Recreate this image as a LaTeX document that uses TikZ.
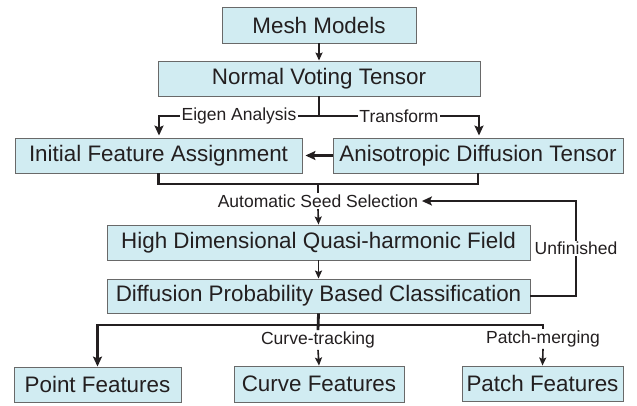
\documentclass[tikz,border=0pt]{standalone}
\usepackage{fontspec}
\setmainfont{Liberation Sans}
\usetikzlibrary{arrows.meta}
\definecolor{boxblue}{RGB}{209,236,242}
\definecolor{linecol}{RGB}{35,31,32}
\definecolor{boxline}{RGB}{105,105,105}
\begin{document}
\begin{tikzpicture}[x=1pt,y=-1pt,
  box/.style={draw=boxline, fill=boxblue, line width=0.9pt, inner sep=0pt, text=linecol, font=\fontsize{22.4}{26}\selectfont},
  lbl/.style={fill=white, inner sep=1.5pt, text=linecol, font=\fontsize{17.5}{20}\selectfont},
  thickline/.style={draw=linecol, line width=2.8pt, line join=miter},
  thickarrow/.style={thickline, -{Stealth[length=10pt,width=9pt,inset=2pt]}},
  thinarrow/.style={draw=linecol, line width=1.6pt, -{Stealth[length=8pt,width=7pt,inset=1.5pt]}}]
\useasboundingbox (0,0) rectangle (637,405);

\node[box, minimum width=194pt, minimum height=36pt] (mesh) at (319,25) {Mesh Models};
\node[box, minimum width=322pt, minimum height=35pt] (nvt) at (319,78.5) {Normal Voting Tensor};
\node[box, minimum width=287pt, minimum height=35pt] (ifa) at (158.5,155.5) {Initial Feature Assignment};
\node[box, minimum width=290pt, minimum height=35pt] (adt) at (478,155.5) {Anisotropic Diffusion Tensor};
\node[lbl] (ass) at (318,201) {Automatic Seed Selection};
\node[box, minimum width=423pt, minimum height=35pt] (hdq) at (318.5,242.5) {High Dimensional Quasi-harmonic Field};
\node[box, minimum width=423pt, minimum height=34pt] (dpb) at (318.5,296) {Diffusion Probability Based Classification};
\node[lbl] (ct) at (318,340) {Curve-tracking};
\node[lbl] (pm) at (543,339) {Patch-merging};
\node[box, minimum width=167pt, minimum height=35pt] (pf) at (97.5,384.5) {Point Features};
\node[box, minimum width=170pt, minimum height=36pt] (cf) at (319,384) {Curve Features};
\node[box, minimum width=161pt, minimum height=35pt] (paf) at (542.5,383.5) {Patch Features};

\coordinate (t1) at (319,116);
\coordinate (tl) at (159,116);
\coordinate (tr) at (479,116);
\coordinate (j) at (318,184);
\coordinate (fb) at (576,0);
\coordinate (b) at (318,325);

\draw[thinarrow] (mesh) -- (nvt);
\draw[thickline] (nvt.south) -- (t1);
\draw[thickarrow, shorten >=2pt] (t1) -- node[lbl, midway] (ea) {Eigen Analysis} (tl) -- (tl |- ifa.north);
\draw[thickarrow, shorten >=2pt] (t1) -- node[lbl, midway] (tf) {Transform} (tr) -- (tr |- adt.north);
\draw[thickarrow, shorten >=3pt] (adt.west) -- (ifa.east);
\draw[thickline] (ifa.south) -- (ifa.south |- j) -- (adt.south |- j) -- (adt.south);
\draw[thickline] (j) -- (ass.north);
\draw[thinarrow] (ass.south) -- (hdq.north);
\draw[thickarrow, shorten >=2pt] (dpb.east) -- (dpb.east -| fb) -- node[lbl, midway] (unf) {Unfinished} (fb |- ass.east) -- (ass.east);
\draw[thinarrow] (hdq.south) -- (dpb.north);
\draw[thickline] (dpb.south) -- (ct.north);
\draw[thickarrow] (b) -- (b -| pf.north) -- (pf.north);
\draw[thickline] (b) -- (b -| pm.north) -- (pm.north);
\draw[thinarrow] (ct.south) -- (cf.north);
\draw[thinarrow] (pm.south) -- (paf.north);
\end{tikzpicture}
\end{document}
